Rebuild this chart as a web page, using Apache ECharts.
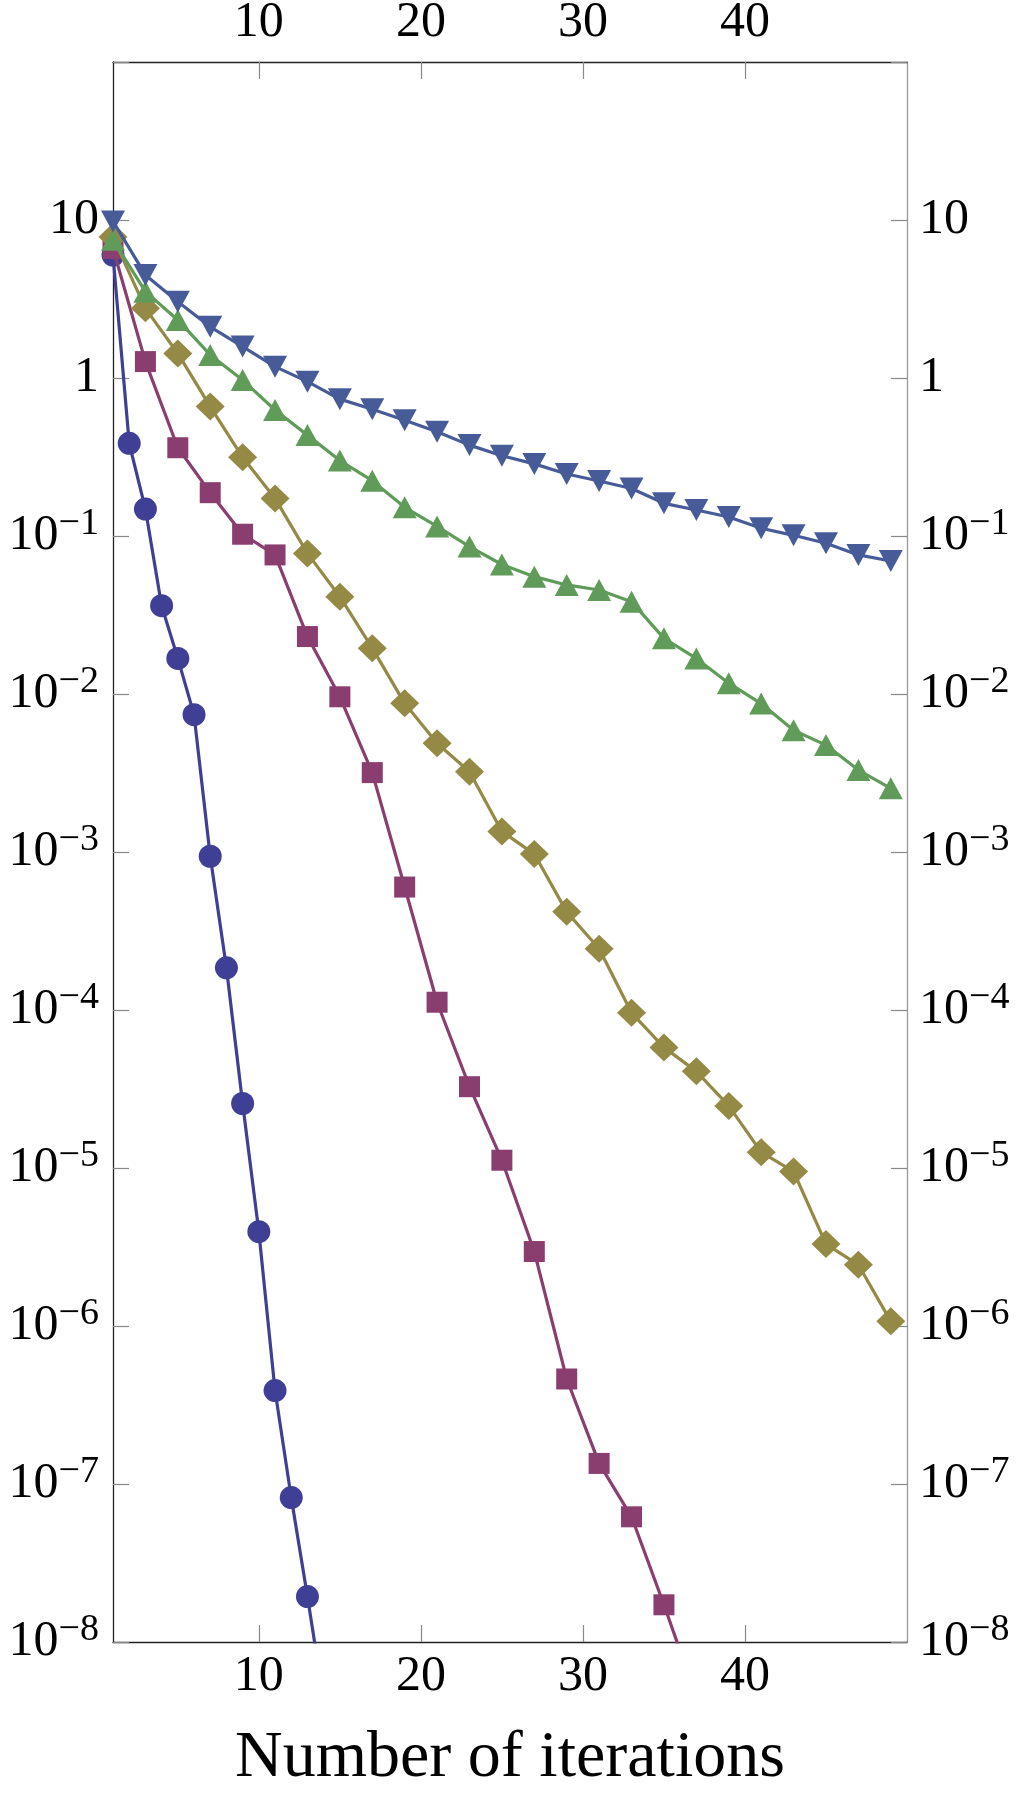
<!DOCTYPE html>
<html>
<head>
<meta charset="utf-8">
<script src="https://cdn.jsdelivr.net/npm/echarts@6/dist/echarts.min.js"></script>
<style>
html,body{margin:0;padding:0;background:#fff;}
#chart{width:1020px;height:1800px;}
</style>
</head>
<body>
<div id="chart"></div>
<script>
// ---- data ----
const xTickValues = [10, 20, 30, 40];
const xCircle = [1, 2, 3, 4, 5, 6, 7, 8, 9, 10, 11, 12, 13, 14];
const circleVals = [6.0, 0.386, 0.148, 0.0362, 0.0168, 7.4e-3, 9.4e-4, 1.85e-4, 2.56e-5, 3.95e-6, 3.9e-7, 8.2e-8, 1.94e-8, 4.3e-9];
const xOdd = [1, 3, 5, 7, 9, 11, 13, 15, 17, 19, 21, 23, 25, 27, 29, 31, 33, 35, 37, 39, 41, 43, 45, 47, 49];
const squareVals = [6.6, 1.27, 0.362, 0.188, 0.1026, 0.0759, 0.0231, 9.6e-3, 3.18e-3, 6.0e-4, 1.12e-4, 3.27e-5, 1.12e-5, 2.96e-6, 4.62e-7, 1.35e-7, 6.2e-8, 1.72e-8, 4.5e-9];
const diamondVals = [7.8, 2.76, 1.43, 0.659, 0.315, 0.173, 0.0776, 0.0413, 0.0195, 8.73e-3, 4.88e-3, 3.22e-3, 1.35e-3, 9.7e-4, 4.18e-4, 2.44e-4, 9.6e-5, 5.8e-5, 4.09e-5, 2.47e-5, 1.26e-5, 9.5e-6, 3.3e-6, 2.44e-6, 1.07e-6];
const triUpVals = [7.5, 3.52, 2.33, 1.40, 0.97, 0.627, 0.435, 0.30, 0.224, 0.152, 0.115, 0.0857, 0.066, 0.0553, 0.049, 0.0455, 0.0384, 0.0225, 0.0168, 0.0117, 8.7e-3, 5.9e-3, 4.75e-3, 3.3e-3, 2.53e-3];
const triDownVals = [9.8, 4.49, 3.04, 2.11, 1.58, 1.18, 0.948, 0.735, 0.635, 0.54, 0.457, 0.376, 0.322, 0.286, 0.247, 0.223, 0.200, 0.161, 0.146, 0.132, 0.112, 0.101, 0.090, 0.0759, 0.0695];
const xAxisTitle = 'Number of iterations';

function pairs(xs, ys) { return ys.map((v, i) => [xs[i], v]); }

const FONT = '"Liberation Serif", "DejaVu Serif", serif';

function yLabel(value) {
  const e = Math.round(Math.log10(value));
  if (e >= 2) return '';
  if (e === 1) return '{a|10}';
  if (e === 0) return '{a|1}';
  return '{a|10}{s|\u2212' + (-e) + '}';
}
const yRich = {
  a: { fontSize: 50, fontFamily: FONT, color: '#000', lineHeight: 50, verticalAlign: 'bottom' },
  s: { fontSize: 38, fontFamily: FONT, color: '#000', lineHeight: 38, padding: [0, 0, 18, 0], verticalAlign: 'bottom' }
};

function xAxisCfg(pos, lineColor, margin) {
  return {
    type: 'value', position: pos, min: 1, max: 50,
    axisLine: { show: true, onZero: false, lineStyle: { color: lineColor, width: 1.3 } },
    axisTick: { show: true, inside: true, length: 17, customValues: xTickValues, lineStyle: { color: '#888', width: 1.2 } },
    axisLabel: { show: true, customValues: xTickValues, fontSize: 50, fontFamily: FONT, color: '#000', margin: margin },
    splitLine: { show: false }
  };
}
function yAxisCfg(pos, lineColor, margin) {
  return {
    type: 'log', logBase: 10, position: pos, min: 1e-8, max: 100, interval: 1,
    axisLine: { show: true, onZero: false, lineStyle: { color: lineColor, width: 1.3 } },
    axisTick: { show: true, inside: true, length: 16, lineStyle: { color: '#888', width: 1.2 } },
    axisLabel: { show: true, margin: margin, formatter: yLabel, rich: yRich, showMaxLabel: true, showMinLabel: true },
    minorTick: { show: false },
    splitLine: { show: false }
  };
}

const chart = echarts.init(document.getElementById('chart'), null, { renderer: 'canvas' });
const option = {
  animation: false,
  backgroundColor: '#fff',
  grid: { left: 113, right: 113, top: 62, bottom: 158, containLabel: false, outerBoundsMode: 'none' },
  xAxis: [
    Object.assign(xAxisCfg('bottom', '#222', 10), {
      name: xAxisTitle, nameLocation: 'middle', nameGap: 84,
      nameTextStyle: { fontSize: 66, fontFamily: FONT, color: '#000' }
    }),
    xAxisCfg('top', '#222', 14)
  ],
  yAxis: [
    yAxisCfg('left', '#222', 14),
    yAxisCfg('right', '#999', 12)
  ],
  series: [
    { type: 'line', name: 'circle', data: pairs(xCircle, circleVals), symbol: 'circle', symbolSize: 23,
      itemStyle: { color: '#3f3f95' }, lineStyle: { color: '#3f3f95', width: 3.2 }, clip: true, z: 2 },
    { type: 'line', name: 'square', data: pairs(xOdd, squareVals), symbol: 'rect', symbolSize: 21,
      itemStyle: { color: '#8a3d6f' }, lineStyle: { color: '#8a3d6f', width: 3.2 }, clip: true, z: 3 },
    { type: 'line', name: 'diamond', data: pairs(xOdd, diamondVals), symbol: 'diamond', symbolSize: [29, 28],
      itemStyle: { color: '#958a45' }, lineStyle: { color: '#958a45', width: 3.2 }, clip: true, z: 4 },
    { type: 'line', name: 'triUp', data: pairs(xOdd, triUpVals), symbol: 'triangle', symbolSize: [24, 22],
      itemStyle: { color: '#609b5a' }, lineStyle: { color: '#609b5a', width: 3.2 }, clip: true, z: 5 },
    { type: 'line', name: 'triDown', data: pairs(xOdd, triDownVals), symbol: 'triangle', symbolRotate: 180, symbolSize: [24, 22],
      itemStyle: { color: '#475b99' }, lineStyle: { color: '#475b99', width: 3.2 }, clip: true, z: 6 }
  ]
};
chart.setOption(option);
</script>
</body>
</html>
